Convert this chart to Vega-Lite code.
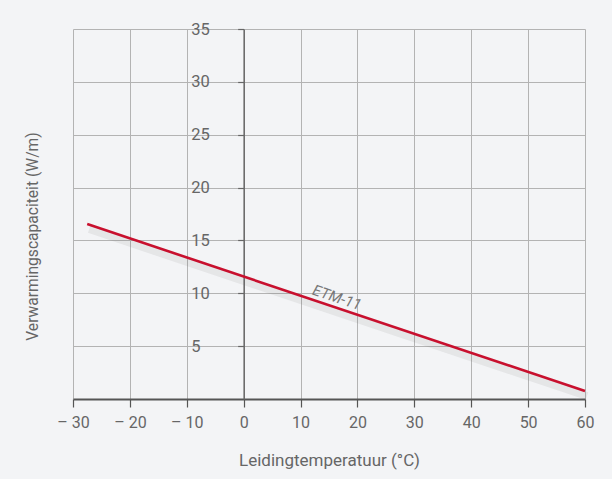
{
  "$schema": "https://vega.github.io/schema/vega-lite/v6.json",
  "autosize": {"type": "none"},
  "width": 512,
  "height": 370,
  "padding": {"left": 73, "top": 29, "right": 27, "bottom": 80},
  "background": "#f3f4f6",
  "config": {
    "view": {"stroke": null},
    "font": "Roboto",
    "axis": {"labelFont": "Roboto", "titleFont": "Roboto", "labelColor": "#666666", "titleColor": "#666666", "titleFontWeight": "normal", "labelFlush": false, "labelOverlap": false}
  },
  "datasets": {
    "line": [
      {"temp": -27.5, "cap": 16.55, "name": "ETM-11"},
      {"temp": 60, "cap": 0.75, "name": "ETM-11"}
    ],
    "label": [
      {"temp": 16.4, "cap": 9.6, "name": "ETM-11"}
    ]
  },
  "layer": [
    {
      "data": {"name": "line"},
      "mark": {"type": "line", "color": "#555555", "strokeWidth": 8, "opacity": 0.09, "yOffset": 5, "xOffset": 2},
      "encoding": {
        "x": {"field": "temp", "type": "quantitative", "scale": {"domain": [-30, 60], "nice": false, "zero": false},
          "axis": {
            "values": [-30, -20, -10, 0, 10, 20, 30, 40, 50, 60],
            "labelExpr": "datum.value < 0 ? '– ' + abs(datum.value) : datum.label",
            "title": "Leidingtemperatuur (°C)",
            "titleFontSize": 17, "titleY": 61, "titleBaseline": "middle",
            "labelFontSize": 16, "labelPadding": 7, "labelBaseline": "top",
            "tickSize": 8, "tickColor": "#555555", "tickWidth": 1.2,
            "domainColor": "#555555", "domainWidth": 2,
            "grid": true, "gridColor": "#b3b3b3", "gridWidth": 1
          }},
        "y": {"field": "cap", "type": "quantitative", "scale": {"domain": [0, 35], "nice": false},
          "axis": {
            "values": [5, 10, 15, 20, 25, 30, 35],
            "offset": -170.67,
            "title": "Verwarmingscapaciteit (W/m)",
            "titleFontSize": 15.6, "titleX": -211, "titleY": 207, "titleAngle": -90, "titleAlign": "center", "titleBaseline": "middle",
            "labelFontSize": 16.5, "labelAlign": "left", "labelBaseline": "middle", "labelPadding": 47,
            "tickSize": 6, "tickColor": "#666666", "tickWidth": 1.2,
            "domainColor": "#666666", "domainWidth": 1.5,
            "grid": true, "gridColor": "#b3b3b3", "gridWidth": 1
          }}
      }
    },
    {
      "data": {"name": "line"},
      "mark": {"type": "line", "color": "#c8102e", "strokeWidth": 2.6},
      "encoding": {
        "x": {"field": "temp", "type": "quantitative"},
        "y": {"field": "cap", "type": "quantitative"}
      }
    },
    {
      "data": {"name": "label"},
      "mark": {"type": "text", "fontStyle": "italic", "fontSize": 15, "color": "#777777", "angle": 18.5, "align": "center", "baseline": "middle"},
      "encoding": {
        "x": {"field": "temp", "type": "quantitative"},
        "y": {"field": "cap", "type": "quantitative"},
        "text": {"field": "name"}
      }
    }
  ]
}
